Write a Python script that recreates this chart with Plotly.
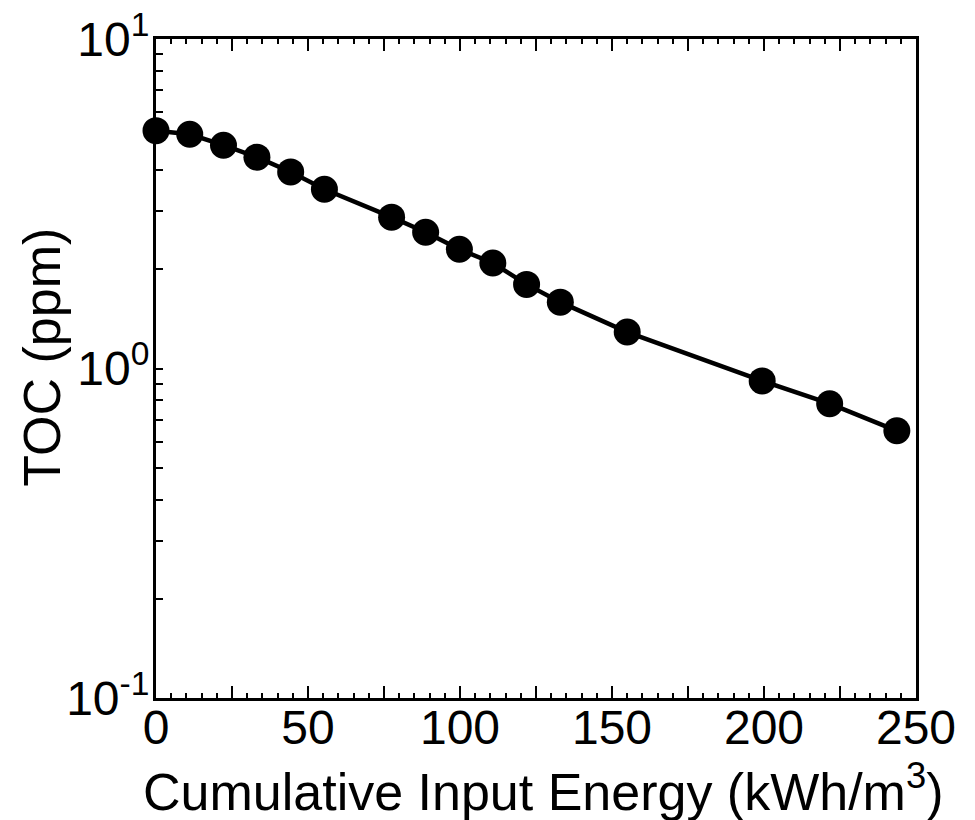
import plotly.graph_objects as go

energy = [0, 11.1, 22.2, 33.2, 44.3, 55.4, 77.5, 88.7, 99.8, 110.8, 121.9, 133.0, 155.0, 199.4, 221.6, 243.7]
toc = [5.27, 5.14, 4.76, 4.38, 3.95, 3.50, 2.88, 2.59, 2.30, 2.09, 1.80, 1.59, 1.29, 0.917, 0.782, 0.647]

x_label_vals = [0, 50, 100, 150, 200, 250]
x_label_text = ["0", "50", "100", "150", "200", "250"]
x_mid_vals = [25, 75, 125, 175, 225]
y_tickvals = [0.1, 1, 10]
y_ticktext = ["10<sup>-1</sup>", "10<sup>0</sup>", "10<sup>1</sup>"]
y_minor = [0.2, 0.3, 0.4, 0.5, 0.6, 0.7, 0.8, 0.9, 2, 3, 4, 5, 6, 7, 8, 9]
x_title = "Cumulative Input Energy (kWh/m<sup>3</sup>)"
y_title = "TOC (ppm)"

FONT = "Liberation Sans, Arial, sans-serif"
FS = 48
FT = 52

fig = go.Figure()
fig.add_trace(go.Scatter(
    x=energy, y=toc, mode="lines+markers",
    line=dict(color="black", width=4.5),
    marker=dict(color="black", size=27),
    showlegend=False, cliponaxis=False,
))
# invisible trace carrying the secondary x axis with the unlabeled 25-step ticks
fig.add_trace(go.Scatter(
    x=energy, y=toc, xaxis="x2", mode="markers",
    marker=dict(opacity=0), showlegend=False, hoverinfo="skip",
))

fig.update_layout(
    width=975, height=820,
    margin=dict(l=156, r=59, t=39, b=122),
    paper_bgcolor="white", plot_bgcolor="white",
    font=dict(family=FONT, color="black", size=FS),
    xaxis=dict(
        range=[0, 250], showgrid=False, zeroline=False, automargin=False,
        showline=True, linecolor="black", linewidth=3, mirror="ticks",
        ticks="inside", ticklen=12, tickwidth=1.5, tickcolor="black",
        tickmode="array", tickvals=x_label_vals, ticktext=x_label_text,
        tickfont=dict(size=FS, family=FONT), ticklabelstandoff=-15,
        minor=dict(ticks="inside", ticklen=5, tickwidth=1.5, tickcolor="black", dtick=5, showgrid=False),
    ),
    xaxis2=dict(
        overlaying="x", matches="x", side="bottom", range=[0, 250],
        showgrid=False, zeroline=False, showline=False, automargin=False,
        ticks="inside", ticklen=12, tickwidth=1.5, tickcolor="black", mirror="ticks",
        tickmode="array", tickvals=x_mid_vals, showticklabels=False,
    ),
    yaxis=dict(
        type="log", range=[-1, 1], showgrid=False, zeroline=False, automargin=False,
        showline=True, linecolor="black", linewidth=3, mirror=True,
        ticks="inside", ticklen=7, tickwidth=1.5, tickcolor="black",
        tickmode="array", tickvals=y_tickvals, ticktext=y_ticktext,
        tickfont=dict(size=FS, family=FONT), ticklabelstandoff=-6,
        minor=dict(ticks="inside", ticklen=7, tickwidth=1.5, tickcolor="black", tickmode="array", tickvals=y_minor, showgrid=False),
    ),
    annotations=[
        dict(text=x_title, xref="paper", yref="paper", x=0.5105, y=-0.137,
             xanchor="center", yanchor="middle", showarrow=False,
             font=dict(size=FT, family=FONT, color="black")),
        dict(text=y_title, xref="paper", yref="paper", x=-0.1497, y=0.5167,
             xanchor="center", yanchor="middle", showarrow=False, textangle=-90,
             font=dict(size=FT, family=FONT, color="black")),
    ],
)

fig.write_html("out.html", config={"displayModeBar": False},
               post_script="document.body.style.margin='0';document.body.style.padding='0';")
